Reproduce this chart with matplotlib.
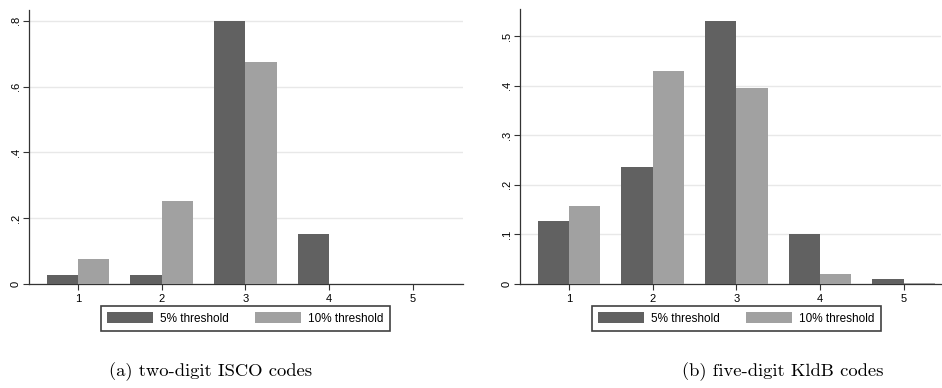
import numpy as np
import matplotlib.pyplot as plt

plt.rcParams['font.family'] = ['Liberation Sans', 'DejaVu Sans']

categories = [1, 2, 3, 4, 5]
labels = ['5% threshold', '10% threshold']

# (a) two-digit ISCO codes
isco_5 = [0.027, 0.027, 0.800, 0.152, 0.0]
isco_10 = [0.076, 0.253, 0.675, 0.0, 0.0]

# (b) five-digit KldB codes
kldb_5 = [0.127, 0.236, 0.531, 0.101, 0.0095]
kldb_10 = [0.157, 0.429, 0.395, 0.020, 0.0015]

dark = '#616161'
light = '#a1a1a1'

fig = plt.figure(figsize=(9.42, 3.88), dpi=100)
ax1 = fig.add_axes([29/942, 1 - 284/388, (463-29)/942, (284-10)/388])
ax2 = fig.add_axes([520/942, 1 - 284/388, (941-520)/942, (284-9.3)/388])


def draw_panel(ax, s5, s10, yticks, yticklabels, ymax, xmax, caption, cap_x, leg_x):
    x = np.array(categories)
    w = 0.375
    b1 = ax.bar(x - w/2, s5, width=w, color=dark, linewidth=0, zorder=3)
    b2 = ax.bar(x + w/2, s10, width=w, color=light, linewidth=0, zorder=3)
    ax.set_xlim(0.415, xmax)
    ax.set_ylim(0, ymax)
    ax.set_xticks(categories)
    ax.set_xticklabels([str(c) for c in categories], fontsize=8)
    ax.set_yticks(yticks)
    ax.set_yticklabels(yticklabels, fontsize=8, rotation=90, va='center')
    ax.grid(axis='y', color='#e8e8e8', linewidth=1, zorder=0)
    for s in ['top', 'right']:
        ax.spines[s].set_visible(False)
    for s in ['left', 'bottom']:
        ax.spines[s].set_color('#333333')
        ax.spines[s].set_linewidth(0.9)
    ax.tick_params(axis='both', length=4, width=0.8, color='#333333', pad=3)
    ax.tick_params(axis='y', pad=2)
    leg = ax.legend([b1, b2], labels, ncol=2, loc='center',
                    bbox_to_anchor=(leg_x, 1 - 318.5/388), bbox_transform=fig.transFigure,
                    fontsize=8.5, frameon=True, fancybox=False, handlelength=3.9,
                    handleheight=1.0, columnspacing=2.2, handletextpad=0.6,
                    borderpad=0.5, borderaxespad=0)
    leg.get_frame().set_edgecolor('#111111')
    leg.get_frame().set_linewidth(1.2)
    fig.text(cap_x, 1 - 372/388, caption, ha='center', va='center',
             fontsize=13.4, family=['cmr10', 'DejaVu Serif'])


draw_panel(ax1, isco_5, isco_10, [0, 0.2, 0.4, 0.6, 0.8],
           ['0', '.2', '.4', '.6', '.8'], 0.833, 5.6,
           '(a) two-digit ISCO codes', 211/942, 245.5/942)
draw_panel(ax2, kldb_5, kldb_10, [0, 0.1, 0.2, 0.3, 0.4, 0.5],
           ['0', '.1', '.2', '.3', '.4', '.5'], 0.554, 5.446,
           '(b) five-digit KldB codes', 783/942, 736.5/942)

fig.savefig('out.png', dpi=100)
